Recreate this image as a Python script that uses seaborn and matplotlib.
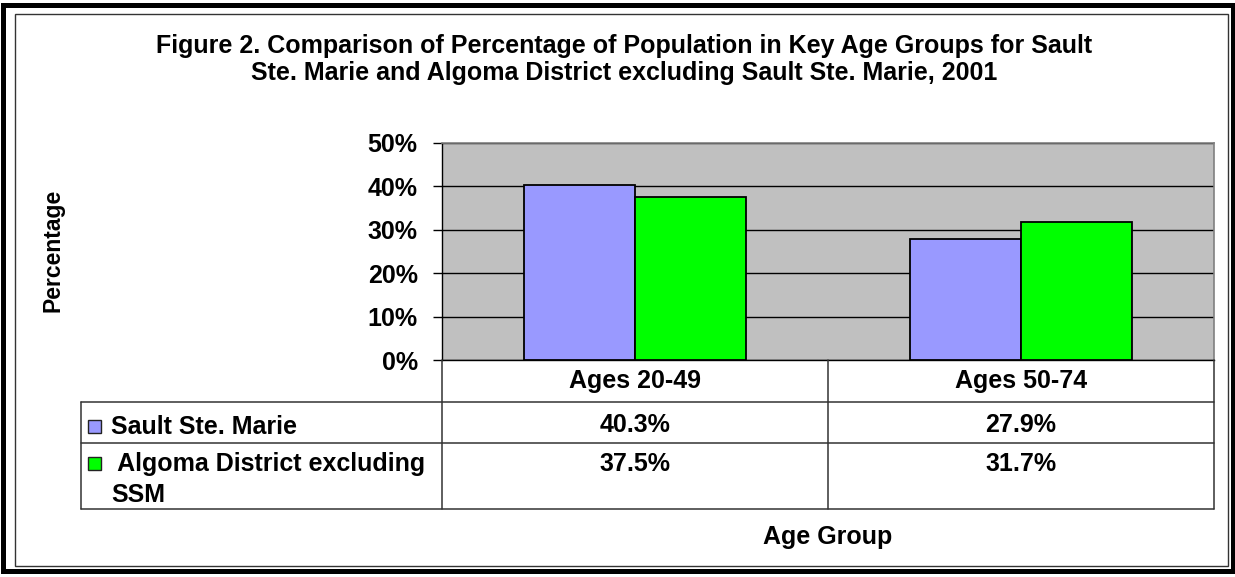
import numpy as np
import pandas as pd
import matplotlib
matplotlib.use("Agg")
import matplotlib.pyplot as plt
import matplotlib.transforms as mtransforms
from matplotlib.patches import Rectangle
from matplotlib.lines import Line2D
import seaborn as sns

# ---- data ----
categories = ["Ages 20-49", "Ages 50-74"]
series = ["Sault Ste. Marie", "Algoma District excluding SSM"]
ssm_values = [40.3, 27.9]
algoma_values = [37.5, 31.7]
colors = ["#9999FF", "#00FF00"]
y_ticks = [0, 10, 20, 30, 40, 50]
title = ("Figure 2. Comparison of Percentage of Population in Key Age Groups for Sault\n"
         "Ste. Marie and Algoma District excluding Sault Ste. Marie, 2001")
x_title = "Age Group"
y_title = "Percentage"

df = pd.DataFrame({
    "Age Group": categories * 2,
    "Series": [series[0]] * len(categories) + [series[1]] * len(categories),
    "Percentage": ssm_values + algoma_values,
})

sns.set_style("white")
plt.rcParams["font.family"] = ["Liberation Sans", "DejaVu Sans"]
plt.rcParams["font.weight"] = "bold"
plt.rcParams["text.color"] = "black"

W, H = 1235, 577
fig = plt.figure(figsize=(W / 100, H / 100), dpi=100)


def fx(px):
    return px / W


def fy(py):
    return 1 - py / H


FS = 18.0

ax = fig.add_axes([fx(442), fy(360), fx(1214) - fx(442), fy(143) - fy(360)])
sns.barplot(data=df, x="Age Group", y="Percentage", hue="Series", palette=colors,
            width=0.575, edgecolor="black", linewidth=1.3, ax=ax, legend=False,
            saturation=1, zorder=3)
ax.set_facecolor("#C0C0C0")
ax.set_xlim(-0.5, len(categories) - 0.5)
ax.set_ylim(0, 50)
ax.set_yticks(y_ticks)
ax.set_yticklabels([f"{t}%" for t in y_ticks], fontsize=FS, fontweight="bold", color="black")
ax.yaxis.grid(True, color="black", linewidth=1.0)
ax.set_axisbelow(True)
ax.tick_params(axis="y", direction="out", length=6.5, width=1, color="black", pad=11, left=True)
ax.tick_params(axis="x", length=0, labelbottom=False)
ax.set_xlabel("")
ax.set_ylabel("")
for s in ["left", "bottom"]:
    ax.spines[s].set_color("black")
    ax.spines[s].set_linewidth(1.0)
for s in ["top", "right"]:
    ax.spines[s].set_color("#808080")
    ax.spines[s].set_linewidth(1.2)

# ---- data table ----
lc = "#333333"
lw = 1.1


def hline(y, x0, x1):
    fig.add_artist(Line2D([fx(x0), fx(x1)], [fy(y), fy(y)], color=lc, lw=lw))


def vline(x, y0, y1):
    fig.add_artist(Line2D([fx(x), fx(x)], [fy(y0), fy(y1)], color=lc, lw=lw))


hline(402, 81, 1214)
hline(443, 81, 1214)
hline(509, 81, 1214)
vline(81, 402, 509)
vline(442, 360, 509)
vline(828, 360, 509)
vline(1214, 360, 509)

blend = mtransforms.blended_transform_factory(ax.transData, fig.transFigure)
for i, cat in enumerate(categories):
    fig.text(i, fy(381), cat, transform=blend, ha="center", va="center",
             fontsize=FS, fontweight="bold")
    fig.text(i, fy(425), f"{ssm_values[i]:.1f}%", transform=blend, ha="center",
             va="center", fontsize=FS, fontweight="bold")
    fig.text(i, fy(464), f"{algoma_values[i]:.1f}%", transform=blend, ha="center",
             va="center", fontsize=FS, fontweight="bold")

# legend keys + row labels
row_centers = [426, 463]
for color, yc in zip(colors, row_centers):
    fig.add_artist(Rectangle((fx(88), fy(yc + 6.5)), fx(13), 13 / H,
                             facecolor=color, edgecolor="#222222", lw=1.0))
fig.text(fx(111), fy(427), series[0], ha="left", va="center", fontsize=FS, fontweight="bold")
head, tail = series[1].rsplit(" ", 1)
fig.text(fx(111), fy(464), " " + head, ha="left", va="center", fontsize=FS, fontweight="bold")
fig.text(fx(111), fy(495), tail, ha="left", va="center", fontsize=FS, fontweight="bold")

# axis titles
fig.text(fx(828), fy(537), x_title, ha="center", va="center", fontsize=FS, fontweight="bold")
fig.text(fx(53), fy(250), y_title, ha="center", va="center", rotation=90,
         fontsize=16.5, fontweight="bold")

# title (two lines)
t1, t2 = title.split("\n")
fig.text(fx(624), fy(46), t1, ha="center", va="center", fontsize=FS, fontweight="bold")
fig.text(fx(624), fy(73), t2, ha="center", va="center", fontsize=FS, fontweight="bold")

# borders
fig.add_artist(Rectangle((fx(15), fy(566)), fx(1228) - fx(15), fy(14) - fy(566),
                         fill=False, edgecolor="#333333", lw=1.0))
fig.add_artist(Rectangle((fx(2.5), fy(571)), fx(1232.5) - fx(2.5), fy(5) - fy(571),
                         fill=False, edgecolor="black", lw=3.6))

fig.savefig("out.png", dpi=100)
